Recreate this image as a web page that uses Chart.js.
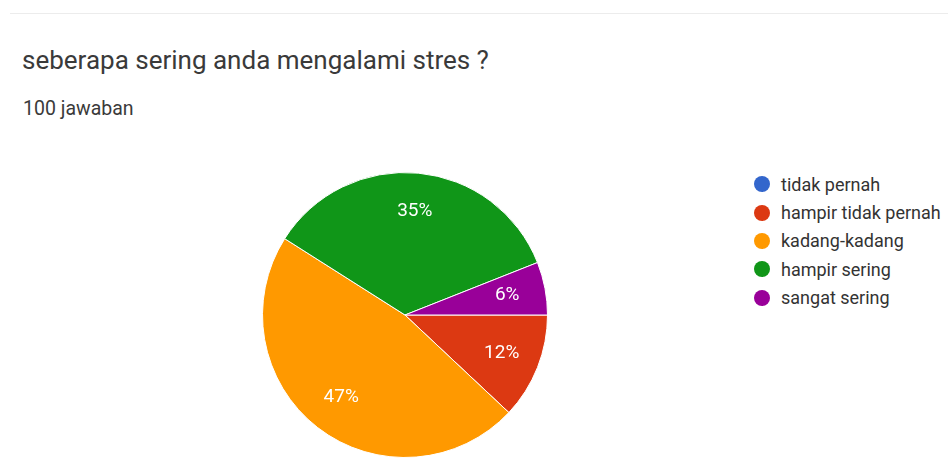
<!DOCTYPE html>
<html>
<head>
<meta charset="utf-8">
<script src="https://cdn.jsdelivr.net/npm/chart.js@4"></script>
<style>
  html, body { margin: 0; padding: 0; background: #fff; }
  body { width: 948px; height: 462px; position: relative; overflow: hidden; font-family: Roboto, Arial, sans-serif; }
  .rule { position: absolute; left: 10px; right: 0; top: 13px; height: 1px; background: #ececec; }
  h1 { position: absolute; left: 22px; top: 45px; margin: 0; font-weight: 400; font-size: 26px; color: #3a3a3a; white-space: nowrap; }
  .count { position: absolute; left: 23px; top: 97px; font-size: 19.5px; color: #3a3a3a; }
  #wrap { position: absolute; left: 262px; top: 172px; width: 286px; height: 286px; }
  #legend { position: absolute; left: 754px; top: 170px; margin: 0; padding: 0; list-style: none; }
  #legend li { height: 28.4px; display: flex; align-items: center; font-size: 18px; color: #333; white-space: nowrap; }
  #legend span.dot { width: 16px; height: 16px; border-radius: 50%; margin-right: 11px; }
</style>
</head>
<body>
<div class="rule"></div>
<h1>seberapa sering anda mengalami stres ?</h1>
<div class="count">100 jawaban</div>
<div id="wrap"><canvas id="pie"></canvas></div>
<ul id="legend"></ul>
<script>
const answers = ['tidak pernah', 'hampir tidak pernah', 'kadang-kadang', 'hampir sering', 'sangat sering'];
const percents = [0, 12, 47, 35, 6];
const colors = ['#3366cc', '#dc3912', '#ff9900', '#109618', '#990099'];

// legend on the right, one row per answer
const legend = document.getElementById('legend');
answers.forEach((name, i) => {
  const li = document.createElement('li');
  li.innerHTML = `<span class="dot" style="background:${colors[i]}"></span>${name}`;
  legend.appendChild(li);
});

// percentage text inside each slice
const sliceLabels = {
  id: 'sliceLabels',
  afterDatasetsDraw(chart) {
    const ctx = chart.ctx;
    const meta = chart.getDatasetMeta(0);
    ctx.save();
    ctx.fillStyle = '#fff';
    ctx.font = '19px Roboto, Arial, sans-serif';
    ctx.textAlign = 'center';
    ctx.textBaseline = 'middle';
    meta.data.forEach((arc, i) => {
      const v = percents[i];
      if (!v) return;
      const mid = (arc.startAngle + arc.endAngle) / 2;
      const r = arc.outerRadius * 0.73;
      ctx.fillText(v + '%', arc.x + Math.cos(mid) * r, arc.y + Math.sin(mid) * r);
    });
    ctx.restore();
  }
};

new Chart(document.getElementById('pie').getContext('2d'), {
  type: 'pie',
  data: { labels: answers, datasets: [{
    data: percents, backgroundColor: colors, borderColor: '#fff', borderWidth: 1
  }]},
  options: {
    responsive: true, maintainAspectRatio: false, animation: false,
    rotation: 90,
    layout: { padding: 0 },
    plugins: { legend: { display: false }, tooltip: { enabled: false } }
  },
  plugins: [sliceLabels]
});
</script>
</body>
</html>
